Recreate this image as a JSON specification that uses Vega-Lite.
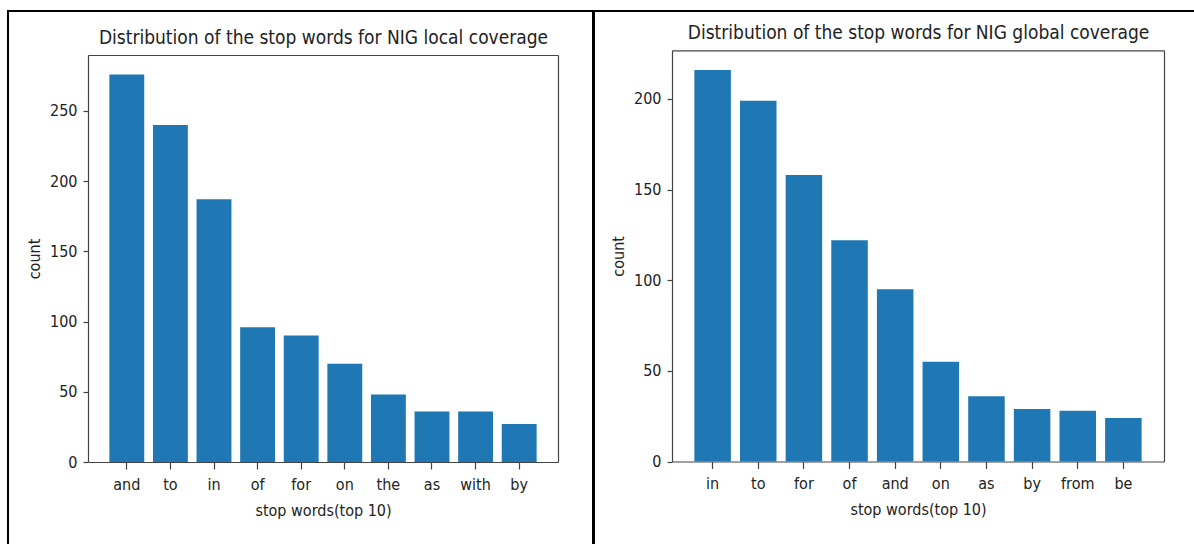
{
  "$schema": "https://vega.github.io/schema/vega-lite/v6.json",
  "padding": {"left": 7, "top": 10, "right": 0, "bottom": 0},
  "background": "white",
  "spacing": -2,
  "config": {
    "view": {"stroke": "black", "strokeWidth": 2},
    "bar": {"color": "#1f77b4"},
    "axis": {
      "domainColor": "#444",
      "domainWidth": 1.2,
      "tickColor": "#444",
      "tickWidth": 1.2,
      "tickSize": 5,
      "grid": false,
      "labelFont": "DejaVu Sans Condensed",
      "labelFontSize": 16,
      "labelColor": "#222",
      "titleFont": "DejaVu Sans Condensed",
      "titleFontSize": 16,
      "titleFontWeight": "normal",
      "titleColor": "#222"
    }
  },
  "hconcat": [
    {
      "width": 585,
      "height": 540,
      "data": {"values": [
        {"word": "and", "count": 276},
        {"word": "to", "count": 240},
        {"word": "in", "count": 187},
        {"word": "of", "count": 96},
        {"word": "for", "count": 90},
        {"word": "on", "count": 70},
        {"word": "the", "count": 48},
        {"word": "as", "count": 36},
        {"word": "with", "count": 36},
        {"word": "by", "count": 27}
      ]},
      "layer": [
        {
          "mark": {"type": "bar"},
          "encoding": {
            "x": {"field": "word", "type": "nominal", "sort": null,
              "scale": {"range": [80, 550], "paddingInner": 0.2, "paddingOuter": 0.49},
              "axis": {"orient": "bottom", "offset": -89, "labelAngle": 0, "tickSize": 7, "labelPadding": 7, "titlePadding": 10, "title": "stop words(top 10)"}},
            "y": {"field": "count", "type": "quantitative",
              "scale": {"domain": [0, 289.8], "range": [451, 44], "nice": false, "zero": true},
              "axis": {"orient": "left", "offset": -80, "values": [0, 50, 100, 150, 200, 250], "labelPadding": 6, "titlePadding": 7, "title": "count"}}
          }
        },
        {
          "mark": {"type": "bar", "opacity": 0},
          "encoding": {
            "x": {"field": "word", "type": "nominal", "sort": null,
              "axis": {"orient": "top", "offset": -44, "labels": false, "ticks": false, "titlePadding": 8, "titleFontSize": 19, "title": "Distribution of the stop words for NIG local coverage"}},
            "y": {"field": "count", "type": "quantitative",
              "axis": {"orient": "right", "offset": -35, "labels": false, "ticks": false, "title": null}}
          }
        }
      ]
    },
    {
      "width": 610,
      "height": 540,
      "data": {"values": [
        {"word": "in", "count": 216},
        {"word": "to", "count": 199},
        {"word": "for", "count": 158},
        {"word": "of", "count": 122},
        {"word": "and", "count": 95},
        {"word": "on", "count": 55},
        {"word": "as", "count": 36},
        {"word": "by", "count": 29},
        {"word": "from", "count": 28},
        {"word": "be", "count": 24}
      ]},
      "layer": [
        {
          "mark": {"type": "bar"},
          "encoding": {
            "x": {"field": "word", "type": "nominal", "sort": null,
              "scale": {"range": [78, 570], "paddingInner": 0.2, "paddingOuter": 0.49},
              "axis": {"orient": "bottom", "offset": -89.5, "labelAngle": 0, "tickSize": 7, "labelPadding": 7, "titlePadding": 10, "title": "stop words(top 10)"}},
            "y": {"field": "count", "type": "quantitative",
              "scale": {"domain": [0, 226.8], "range": [450.5, 39.3], "nice": false, "zero": true},
              "axis": {"orient": "left", "offset": -78, "values": [0, 50, 100, 150, 200], "labelPadding": 6, "titlePadding": 7, "title": "count"}}
          }
        },
        {
          "mark": {"type": "bar", "opacity": 0},
          "encoding": {
            "x": {"field": "word", "type": "nominal", "sort": null,
              "axis": {"orient": "top", "offset": -39.3, "labels": false, "ticks": false, "titlePadding": 8, "titleFontSize": 19, "title": "Distribution of the stop words for NIG global coverage"}},
            "y": {"field": "count", "type": "quantitative",
              "axis": {"orient": "right", "offset": -40, "labels": false, "ticks": false, "title": null}}
          }
        }
      ]
    }
  ]
}
